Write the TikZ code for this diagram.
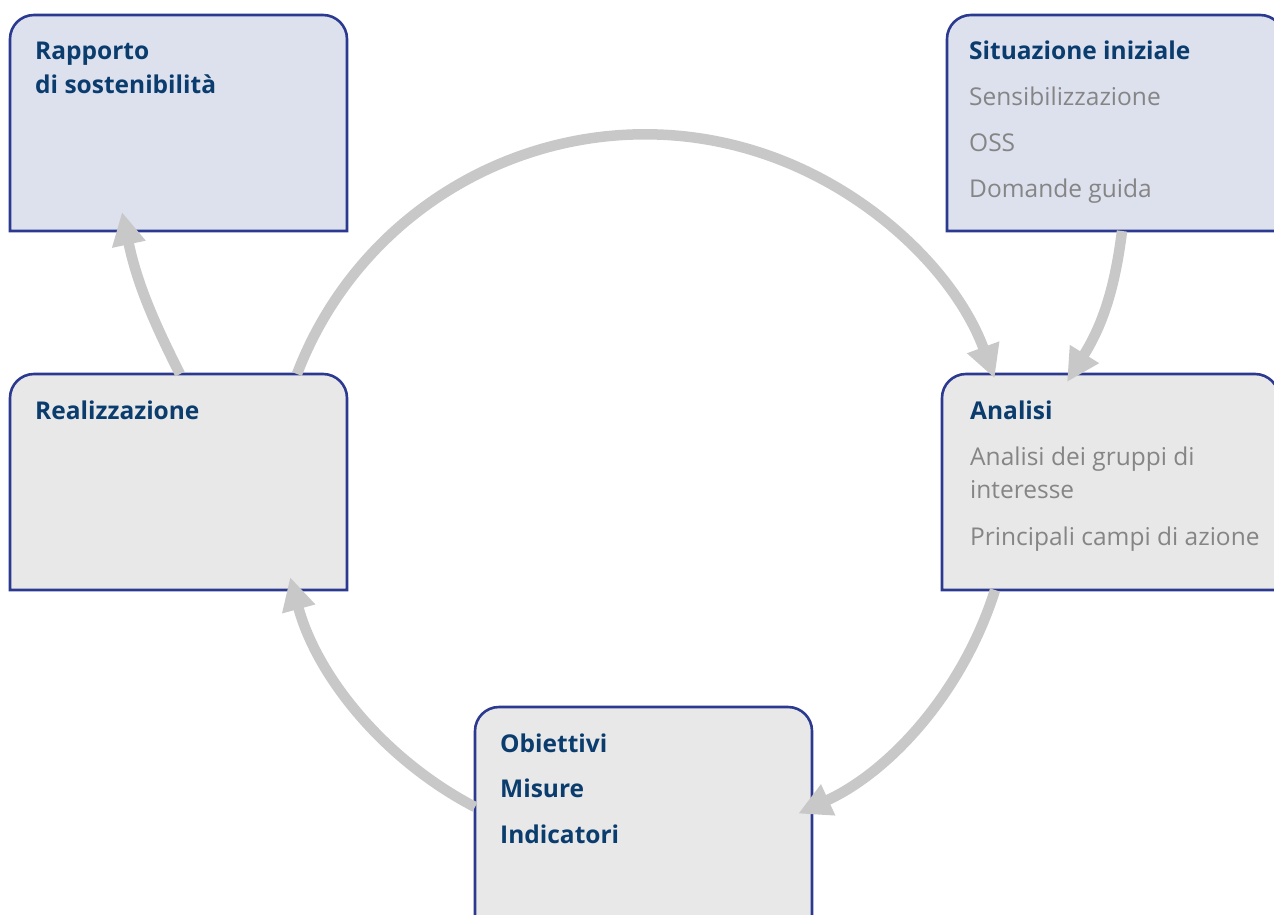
\documentclass[tikz,border=0pt]{standalone}
\usepackage{fontspec}
\setmainfont{Open Sans}
\usetikzlibrary{arrows.meta}
\definecolor{lav}{HTML}{DDE1EE}
\definecolor{lgray}{HTML}{E8E8E8}
\definecolor{bordercol}{HTML}{2B3990}
\definecolor{titlecol}{HTML}{0A3C6E}
\definecolor{textcol}{HTML}{858585}
\definecolor{arrcol}{HTML}{C8C8C8}
\newcommand{\tbox}[2]{\draw[boxline,fill=#2] (#1.south west) -- ([yshift=-24pt]#1.north west) arc[start angle=180,end angle=90,radius=24pt] -- ([xshift=-24pt]#1.north east) arc[start angle=90,end angle=0,radius=24pt] -- (#1.south east) -- cycle;}
\tikzset{
  boxnode/.style={draw=none,inner sep=0pt,outer sep=0pt,minimum width=337pt,minimum height=216pt,anchor=north west},
  boxline/.style={draw=bordercol,line width=2.6pt},
  ttl/.style={anchor=base west,inner sep=0pt,text=titlecol,font=\fontsize{24.5pt}{29pt}\selectfont\bfseries},
  itm/.style={anchor=base west,inner sep=0pt,text=textcol,font=\fontsize{24.5pt}{29pt}\selectfont},
  arr/.style={draw=arrcol,line width=10.5pt,-{Triangle[length=33pt,width=32pt]}}
}
\begin{document}
\begin{tikzpicture}[x=1pt,y=1pt]
\useasboundingbox (0,0) rectangle (1274,-915);
\clip (0,0) rectangle (1274,-915);
% boxes
\node[boxnode] (rap) at (10,-15) {};
\node[boxnode] (sit) at (947,-15) {};
\node[boxnode] (rea) at (10,-374) {};
\node[boxnode] (ana) at (942,-374) {};
\node[boxnode] (obi) at (475,-707) {};
\tbox{rap}{lav}
\tbox{sit}{lav}
\tbox{rea}{lgray}
\tbox{ana}{lgray}
\tbox{obi}{lgray}
% texts
\node[ttl] (rap1) at (35,-60) {Rapporto};
\node[ttl] (rap2) at (35,-94) {di sostenibilità};
\node[ttl] (sit1) at (969,-60) {Situazione iniziale};
\node[itm] (sit2) at (969,-106) {Sensibilizzazione};
\node[itm] (sit3) at (969,-152) {OSS};
\node[itm] (sit4) at (969,-197) {Domande guida};
\node[ttl] (rea1) at (35,-419) {Realizzazione};
\node[ttl] (ana1) at (970,-419) {Analisi};
\node[itm] (ana2) at (970,-465) {Analisi dei gruppi di};
\node[itm] (ana3) at (970,-498) {interesse};
\node[itm] (ana4) at (970,-545) {Principali campi di azione};
\node[ttl] (obi1) at (500,-752) {Obiettivi};
\node[ttl] (obi2) at (500,-797) {Misure};
\node[ttl] (obi3) at (500,-843) {Indicatori};
% arrows
\draw[arr] ([xshift=-50pt]rea.north east) arc[start angle=159.1,end angle=20.2,radius=372.5pt];
\draw[arr] ([xshift=175pt]sit.south west) to[out=-97,in=58] ([xshift=125pt,yshift=-8pt]ana.north west);
\draw[arr] ([xshift=53pt]ana.south west) arc[start angle=-17.4,end angle=-65.3,radius=366.9pt];
\draw[arr] ([yshift=-100pt]obi.north west) arc[start angle=242.5,end angle=195.1,radius=367pt];
\draw[arr] ([xshift=170pt]rea.north west) to[out=117,in=-78] ([xshift=112pt,yshift=19pt]rap.south west);
\end{tikzpicture}
\end{document}
